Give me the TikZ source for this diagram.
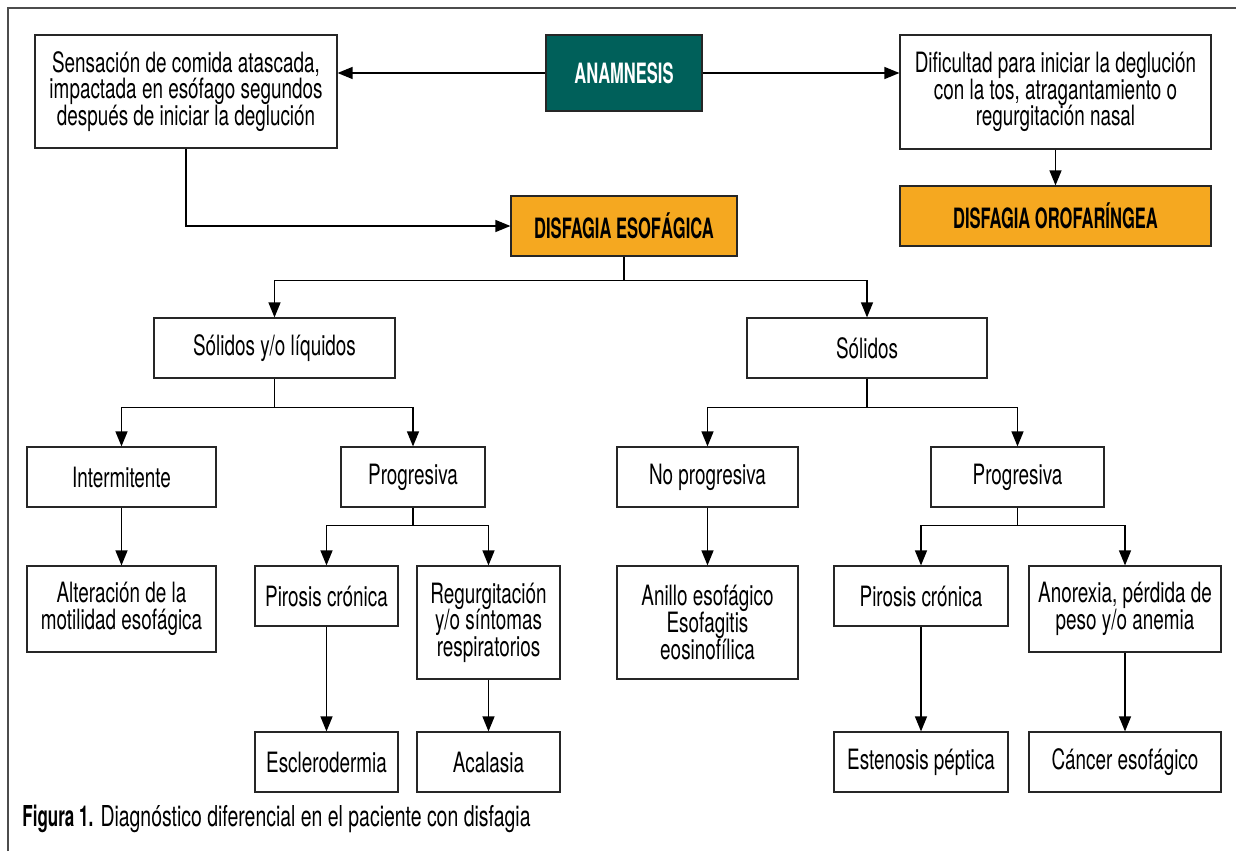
\documentclass[tikz,border=0pt]{standalone}
\usepackage{fontspec}
\setmainfont{TeX Gyre Heros}[FakeStretch=0.675, BoldFeatures={FakeStretch=0.59}]
\usepackage{tikz}
\usetikzlibrary{arrows.meta}
\usetikzlibrary{positioning}

\definecolor{anamteal}{RGB}{0,96,90}
\definecolor{disforange}{RGB}{245,168,32}

\begin{document}
\begin{tikzpicture}[x=0.5pt, y=-0.5pt,
    every node/.style = {align=center, inner sep=0pt},
    box/.style = {shape=rectangle, draw=black!85, line width=0.6pt,
      fill=white, font=\fontsize{14}{13.3}\selectfont},
    headbox/.style = {box, font=\fontsize{14}{13.3}\selectfont\bfseries},
    sz/.style 2 args = {minimum width=#1*0.5pt, minimum height=#2*0.5pt},
    arr/.style = {-{Triangle[length=7.5pt,width=6pt]}, line width=0.65pt},
    link/.style = {line width=0.65pt}]
  \useasboundingbox (0,0) rectangle (1236,851);
  \draw[black!70, line width=0.6pt] (8,851) -- (8,8) -- (1236,8);

  % top row
  \node[box, sz={302}{113}] (sensa) at (186,91.5)
    {Sensación de comida atascada,\\ impactada en esófago segundos\\ después de iniciar la deglución};
  \node[headbox, sz={156}{76}, fill=anamteal, text=white] (anam) at (624,73) {ANAMNESIS};
  \node[box, sz={311}{114}] (dific) at (1055.5,92)
    {Dificultad para iniciar la deglución\\ con la tos, atragantamiento o\\ regurgitación nasal};
  \node[headbox, sz={311}{60}, fill=disforange] (orof) at (1055.5,216) {DISFAGIA OROFARÍNGEA};
  \node[headbox, sz={226}{60}, fill=disforange] (esof) at (624,226) {DISFAGIA ESOFÁGICA};

  % second and third rows
  \node[box, sz={241}{60}] (solliq) at (274.5,348) {Sólidos y/o líquidos};
  \node[box, sz={240}{60}] (sol) at (867,348) {Sólidos};
  \node[box, sz={189}{60}] (inter) at (121.5,477) {Intermitente};
  \node[box, sz={144}{60}] (progA) at (413,477) {Progresiva};
  \node[box, sz={181}{60}] (noprog) at (707.5,477) {No progresiva};
  \node[box, sz={173}{60}] (progB) at (1017.5,477) {Progresiva};

  % fourth row
  \node[box, sz={189}{86}] (alter) at (121.5,609) {Alteración de la\\ motilidad esofágica};
  \node[box, sz={143}{60}] (pirA) at (326.5,596) {Pirosis crónica};
  \node[box, sz={143}{113}] (regurg) at (488.5,622.5) {Regurgitación\\ y/o síntomas\\ respiratorios};
  \node[box, sz={181}{113}] (anillo) at (707.5,622.5) {Anillo esofágico\\ Esofagitis\\ eosinofílica};
  \node[box, sz={174}{60}] (pirB) at (921,596) {Pirosis crónica};
  \node[box, sz={192}{86}] (anor) at (1125,609) {Anorexia, pérdida de\\ peso y/o anemia};

  % bottom row
  \node[box, sz={143}{60}] (escl) at (326.5,762) {Esclerodermia};
  \node[box, sz={143}{60}] (acal) at (488.5,762) {Acalasia};
  \node[box, sz={174}{60}] (esten) at (921,762) {Estenosis péptica};
  \node[box, sz={192}{60}] (cancer) at (1125,762) {Cáncer esofágico};

  \node[anchor=base west, font=\fontsize{14.4}{15}\selectfont] (caption) at (22,826)
    {\textbf{Figura 1.} Diagnóstico diferencial en el paciente con disfagia};

  % connectors
  \draw[arr] (anam.west) -- (anam.west -| sensa.east);
  \draw[arr] (anam.east) -- (anam.east -| dific.west);
  \draw[arr] (dific.south) -- (orof.north);
  \draw[arr] (sensa.south) |- (esof.west);

  \draw[link] (esof.south) -- ++(0,24) coordinate (j1);
  \draw[arr] (j1) -| (solliq.north);
  \draw[arr] (j1) -| (sol.north);

  \draw[link] (solliq.south) -- ++(0,29) coordinate (j2);
  \draw[arr] (j2) -| (inter.north);
  \draw[arr] (j2) -| (progA.north);
  \draw[link] (sol.south) -- ++(0,29) coordinate (j3);
  \draw[arr] (j3) -| (noprog.north);
  \draw[arr] (j3) -| (progB.north);

  \draw[arr] (inter.south) -- (alter.north);
  \draw[link] (progA.south) -- ++(0,18) coordinate (j4);
  \draw[arr] (j4) -| (pirA.north);
  \draw[arr] (j4) -| (regurg.north);
  \draw[arr] (noprog.south) -- (anillo.north);
  \draw[link] (progB.south) -- ++(0,18) coordinate (j5);
  \draw[arr] (j5) -| (pirB.north);
  \draw[arr] (j5) -| (anor.north);

  \draw[arr] (pirA.south) -- (escl.north);
  \draw[arr] (regurg.south) -- (acal.north);
  \draw[arr] (pirB.south) -- (esten.north);
  \draw[arr] (anor.south) -- (cancer.north);
\end{tikzpicture}
\end{document}
